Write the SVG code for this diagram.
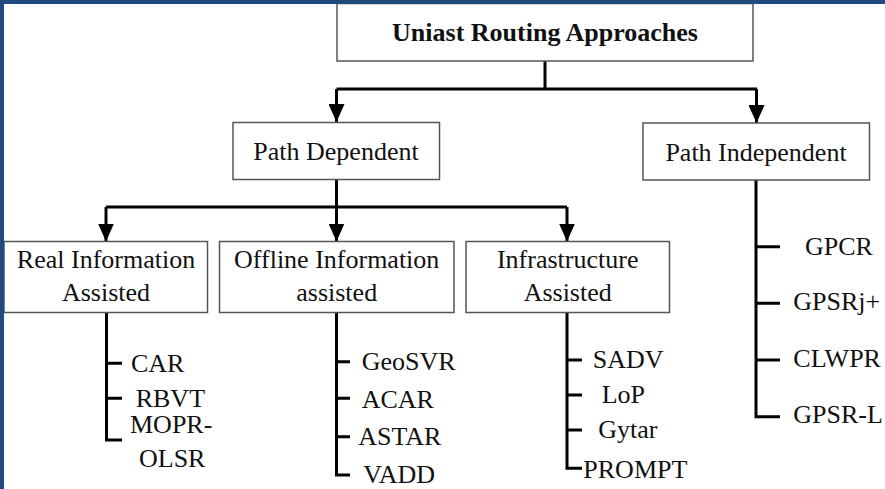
<svg xmlns="http://www.w3.org/2000/svg" width="885" height="489" viewBox="0 0 885 489">
<defs>
<marker id="arr" viewBox="0 0 18 16" refX="18" refY="8" markerWidth="18" markerHeight="16" markerUnits="userSpaceOnUse" orient="auto">
<path d="M0,0 L18,8 L0,16 Z" fill="#000"/>
</marker>
<style>
.box{fill:#fff;stroke:#555;stroke-width:1.5}
.t{font-family:"Liberation Serif","Times New Roman",serif;font-size:26px;fill:#111}
.c{text-anchor:middle}
.b{font-weight:bold}
.ln{fill:none;stroke:#000;stroke-width:3}
</style>
</defs>
<rect width="885" height="489" fill="#fff"/>
<g id="connectors">
<path class="ln" d="M545 61 V89 M336.5 89 H757"/>
<path class="ln" d="M336.5 89 V122" marker-end="url(#arr)"/>
<path class="ln" d="M756.5 89 V123" marker-end="url(#arr)"/>
<path class="ln" d="M336.5 180 V207 M106 207 H567"/>
<path class="ln" d="M106 207 V241.5" marker-end="url(#arr)"/>
<path class="ln" d="M336.5 207 V241.5" marker-end="url(#arr)"/>
<path class="ln" d="M567 207 V241.5" marker-end="url(#arr)"/>
<path class="ln" d="M106.5 313 V440 H122 M106.5 363.3 H122 M106.5 398.3 H122"/>
<path class="ln" d="M336.5 313 V475 H350 M336.5 361.7 H350 M336.5 398.3 H350 M336.5 436.7 H350"/>
<path class="ln" d="M567 313 V468.3 H582 M567 360 H582 M567 395 H582 M567 430 H582"/>
<path class="ln" d="M756 180 V416.7 H780 M756 246.7 H780 M756 303.3 H780 M756 360 H780"/>
</g>
<g id="root">
<rect class="box" x="337" y="3.5" width="416" height="57.5"/>
<text class="t c b" x="545" y="41">Uniast Routing Approaches</text>
</g>
<g id="path-dependent">
<rect class="box" x="233" y="122.5" width="206.5" height="57"/>
<text class="t c" x="336" y="160">Path Dependent</text>
</g>
<g id="path-independent">
<rect class="box" x="643" y="123" width="226.5" height="57"/>
<text class="t c" x="756" y="160.5">Path Independent</text>
</g>
<g id="real-info">
<rect class="box" x="4" y="241.5" width="203.5" height="71"/>
<text class="t c" x="106" y="268">Real Information</text>
<text class="t c" x="106" y="301">Assisted</text>
</g>
<g id="offline-info">
<rect class="box" x="219.5" y="241.5" width="234.5" height="71"/>
<text class="t c" x="336.7" y="268">Offline Information</text>
<text class="t c" x="336.7" y="301">assisted</text>
</g>
<g id="infra">
<rect class="box" x="466" y="241.5" width="203.5" height="71"/>
<text class="t c" x="567.7" y="268">Infrastructure</text>
<text class="t c" x="567.7" y="301">Assisted</text>
</g>
<g id="real-leaves">
<text class="t" x="131" y="371.7">CAR</text>
<text class="t" x="135.7" y="406.7">RBVT</text>
<text class="t" x="130" y="433.3">MOPR-</text>
<text class="t" x="139" y="466.7">OLSR</text>
</g>
<g id="offline-leaves">
<text class="t" x="361.7" y="370">GeoSVR</text>
<text class="t" x="361.7" y="408.3">ACAR</text>
<text class="t" x="358.3" y="445">ASTAR</text>
<text class="t" x="363.3" y="483.3">VADD</text>
</g>
<g id="infra-leaves">
<text class="t" x="592.7" y="368.3">SADV</text>
<text class="t" x="601.7" y="403.3">LoP</text>
<text class="t" x="598.3" y="438.3">Gytar</text>
<text class="t" x="583.3" y="478.3">PROMPT</text>
</g>
<g id="independent-leaves">
<text class="t" x="805" y="255">GPCR</text>
<text class="t" x="793.3" y="310">GPSRj+</text>
<text class="t" x="793.3" y="366.7">CLWPR</text>
<text class="t" x="793.3" y="423.3">GPSR-L</text>
</g>
<g id="frame">
<rect x="0" y="0" width="885" height="4" fill="#1F4A7E"/>
<rect x="0" y="0" width="4" height="489" fill="#1F4A7E"/>
</g>
</svg>
